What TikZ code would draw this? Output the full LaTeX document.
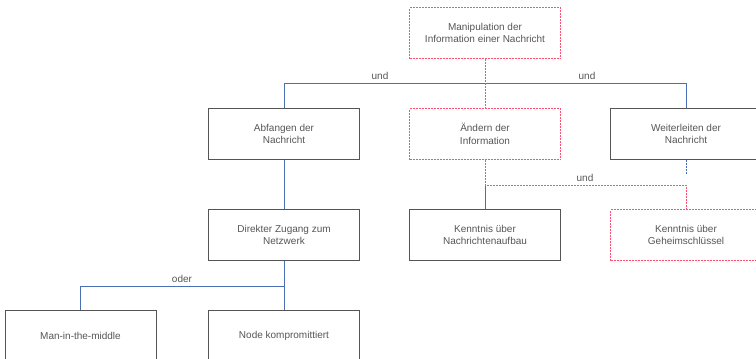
\documentclass[tikz,border=0pt]{standalone}
\usepackage{fontspec}
\setmainfont{Liberation Sans}
\usetikzlibrary{positioning}
\definecolor{boxgray}{HTML}{555555}
\definecolor{linkblue}{HTML}{4A6FB5}
\definecolor{pinkred}{HTML}{FF4F73}
\begin{document}
\begin{tikzpicture}[x=1pt,y=-1pt,
		box/.style={draw=boxgray, line width=0.9pt, minimum width=151pt, minimum height=51pt, align=center, text=boxgray, font=\fontsize{10}{12.3}\selectfont},
		pinkbox/.style={box, draw=pinkred, dash pattern=on 2pt off 1pt},
		bline/.style={draw=linkblue, line width=0.9pt},
		pline/.style={draw=pinkred, line width=0.9pt, dash pattern=on 2pt off 1pt},
		lab/.style={text=boxgray, inner sep=1pt, font=\fontsize{10}{12.3}\selectfont}]
		\useasboundingbox (0,0) rectangle (756,359);
		% boxes
		\node[pinkbox] (manip) at (485,33) {Manipulation der\\Information einer Nachricht};
		\node[box] (abfangen) at (284,134) {Abfangen der\\Nachricht};
		\node[pinkbox] (aendern) at (485,134) {Ändern der\\Information};
		\node[box] (weiter) at (686,134) {Weiterleiten der\\Nachricht};
		\node[box] (zugang) at (284,235) {Direkter Zugang zum\\Netzwerk};
		\node[box] (aufbau) at (485,235) {Kenntnis über\\Nachrichtenaufbau};
		\node[pinkbox] (geheim) at (686,235) {Kenntnis über\\Geheimschlüssel};
		\node[box] (mitm) at (80.5,336) {Man-in-the-middle};
		\node[box] (kompr) at (284,336) {Node kompromittiert};
		\coordinate (weiterend) at (686,174);
		% labels
		\node[lab] (und1) at (380,76) {und};
		\node[lab] (und2) at (587,76) {und};
		\node[lab] (und3) at (585,178) {und};
		\node[lab] (oder) at (182,279) {oder};
		% connectors
		\draw[bline] (abfangen.north) -- ++(0,-25) -| (weiter.north);
		\draw[pline] (manip.south) -- (aendern.north);
		\draw[bline, dash pattern=on 2pt off 1pt] (weiter.south) -- (weiterend);
		\draw[bline] (aufbau.north) -- ++(0,-25);
		\draw[pline] (aendern.south) -- ++(0,25) -| (geheim.north);
		\draw[bline] (abfangen.south) -- (zugang.north);
		\draw[bline] (zugang.south) -- (kompr.north);
		\draw[bline] (zugang.south) -- ++(0,25) -| (mitm.north);
	\end{tikzpicture}
\end{document}
